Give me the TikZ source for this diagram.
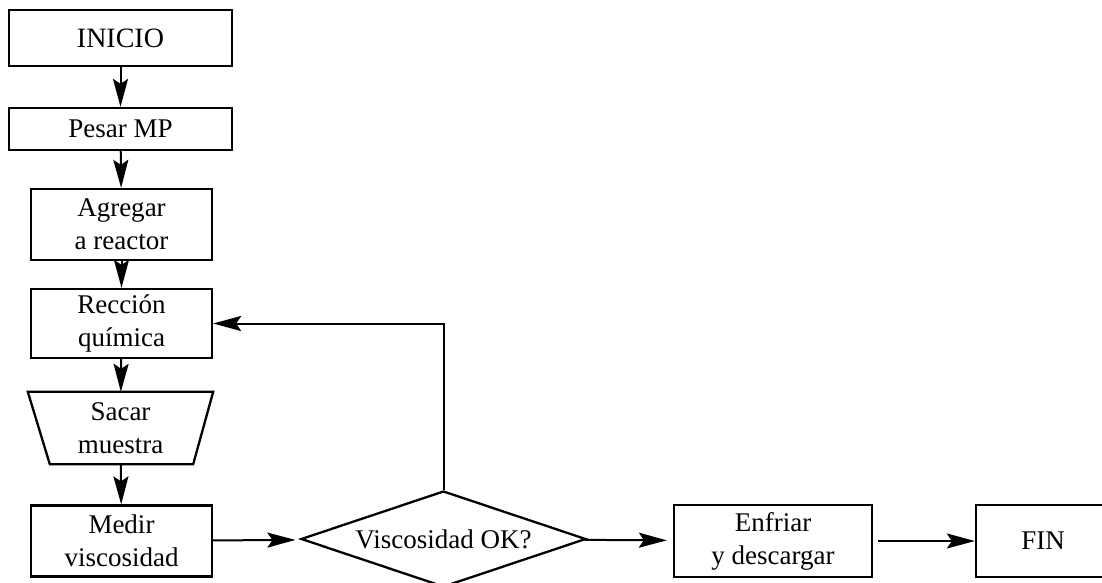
\documentclass[tikz,border=0pt]{standalone}
\usepackage{fontspec}
\setmainfont{Liberation Serif}
\usetikzlibrary{arrows.meta,shapes.geometric}
\begin{document}
\begin{tikzpicture}[x=1pt,y=-1pt,
  every node/.style={font=\fontsize{27}{33}\selectfont, align=center, inner sep=0pt},
  proc/.style={draw, line width=2.3pt, rectangle},
  arr/.style={line width=2pt, -{Stealth[length=28pt,width=15pt,inset=5pt]}},
  decision/.style={draw, line width=2.3pt, diamond, aspect=3},
]
\useasboundingbox (0,0) rectangle (1102,583);
\fill[white] (0,0) rectangle (1102,583);
\clip (0,0) rectangle (1102,583);

% main column
\node[proc, minimum width=223pt, minimum height=56pt, font=\fontsize{28}{33}\selectfont] (ini) at (120.5,38) {INICIO};
\node[proc, minimum width=223pt, minimum height=42pt] (pesar) at (120.5,129) {Pesar MP};
\node[proc, minimum width=181pt, minimum height=71pt] (agr) at (121.5,224.5) {Agregar\\a reactor};
\node[proc, minimum width=181pt, minimum height=69pt] (reac) at (121.5,323.5) {Rección\\química};

% manual operation (inverted trapezoid)
\node[minimum width=185pt, minimum height=72pt] (saca) at (120.5,428) {Sacar\\muestra};
\draw[line width=2.3pt, line join=miter] (saca.north west) -- (saca.north east)
  -- ([xshift=-20pt]saca.south east) -- ([xshift=22pt]saca.south west) -- cycle;

\node[proc, minimum width=181pt, minimum height=71pt] (medir) at (121.5,541) {Medir\\viscosidad};

% decision and bottom row
\node[decision, minimum width=285pt, minimum height=96pt] (dia) at (443.5,539) {Viscosidad OK?};
\node[proc, minimum width=198pt, minimum height=72pt] (enf) at (773,541) {Enfriar\\y descargar};
\node[proc, minimum width=134pt, minimum height=72pt] (fin) at (1043,541) {FIN};

% connectors
\draw[arr] (ini) -- (pesar);
\draw[arr] (pesar) -- (agr);
\draw[arr] (agr) -- (reac);
\draw[arr] (reac) -- (saca);
\draw[arr] (saca) -- (medir);
\draw[arr, shorten >=7pt] (medir) -- (dia);
\draw[arr, shorten >=6pt] (dia) -- (enf);
\draw[arr, shorten <=5pt] (enf) -- (fin);
\draw[arr] (dia.north) |- (reac.east);
\end{tikzpicture}
\end{document}
